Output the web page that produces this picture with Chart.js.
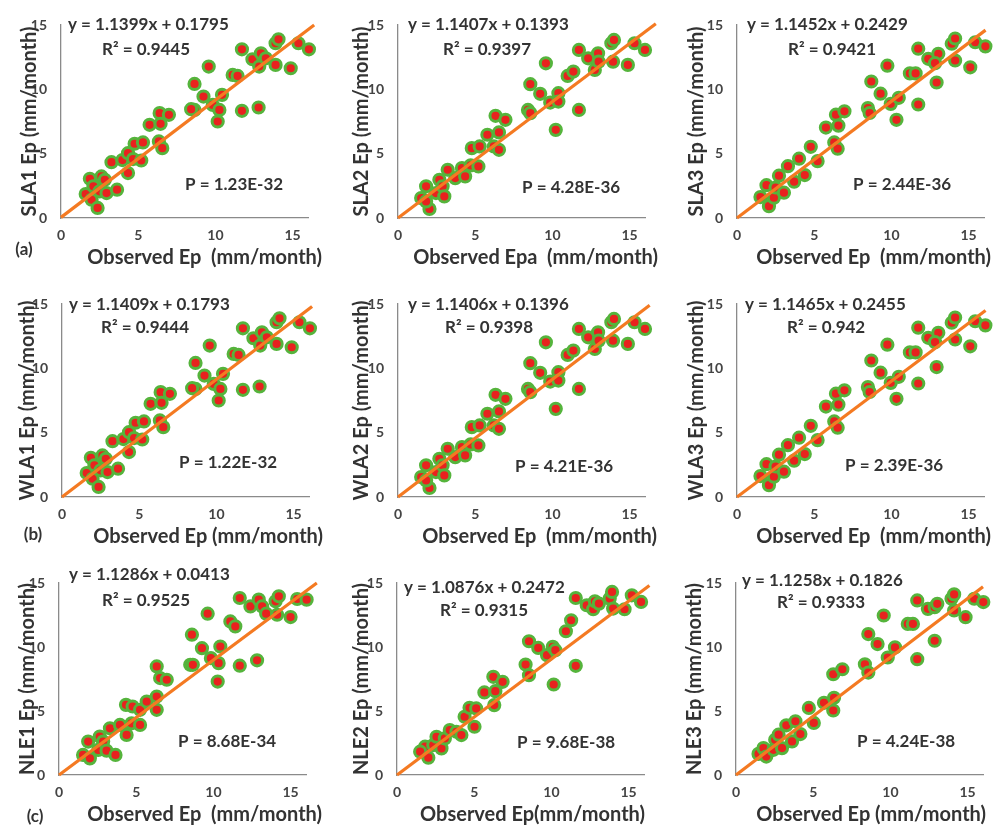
<!DOCTYPE html>
<html>
<head>
<meta charset="utf-8">
<script src="https://cdn.jsdelivr.net/npm/chart.js@4.4.0/dist/chart.umd.min.js"></script>
<style>
html,body{margin:0;padding:0;background:#fff;overflow:hidden;width:995px;height:827px;}
.cell{position:absolute;}
</style>
</head>
<body>
<div id="fig"></div>
<script>
// values (observed Ep vs model Ep, mm/month)
let sla1X=[1.87,1.6,2.1,1.98,2.37,2.62,2.84,2.5,2.95,3.63,3.27,3.98,4.34,4.34,4.67,4.77,5.2,5.31,5.74,6.39,6.45,6.34,6.56,6.99,8.65,8.65,8.43,9.23,9.57,9.83,10.26,10.15,10.43,11.12,11.44,11.72,11.72,12.4,12.84,12.95,12.8,13.27,13.9,14.09,13.9,14.88,15.38,16.06];
let sla1Y=[3.05,1.86,2.46,1.42,0.78,3.23,2.97,2.07,1.94,2.2,4.34,4.5,3.49,5.04,4.58,5.77,4.47,5.87,7.24,8.15,7.32,5.95,5.43,8.02,10.42,8.4,8.46,9.44,11.77,8.79,8.4,7.5,9.57,11.12,11.04,13.11,8.33,12.34,11.77,12.8,8.59,12.41,13.58,13.89,11.9,11.64,13.58,13.11];

let sla2X=[1.82,1.5,2.04,1.82,2.46,2.68,2.89,3.0,3.22,3.71,4.14,4.35,4.71,4.78,5.29,5.21,5.79,6.32,6.54,6.96,6.21,6.54,8.42,8.57,8.57,9.21,9.58,9.86,10.39,10.39,10.22,10.99,11.36,11.72,11.72,12.32,12.75,12.96,13.0,13.82,13.99,13.93,14.89,15.32,16.0];
let sla2Y=[2.46,1.55,0.7,1.29,1.94,2.97,2.46,1.68,3.75,3.1,3.88,3.23,4.09,5.43,5.56,4.01,6.47,7.94,6.65,7.63,5.56,5.3,8.4,8.15,10.4,9.65,12.02,8.97,9.7,9.05,6.85,11.04,11.38,13.06,8.4,12.41,11.51,12.8,12.15,13.58,13.84,12.15,11.9,13.58,13.06];

let sla3X=[1.91,1.52,2.07,2.39,2.5,2.72,3.04,3.3,3.7,4.02,4.39,4.78,5.22,5.76,6.41,6.57,6.3,6.52,6.96,8.48,8.59,8.7,9.3,9.74,9.96,10.48,10.33,11.2,11.57,11.74,11.74,12.39,12.93,13.04,12.83,13.91,14.13,14.13,15.11,15.43,16.09];
let sla3Y=[2.55,1.63,0.92,1.58,2.37,3.29,1.97,4.03,2.82,4.61,3.34,5.53,4.42,7.03,8.03,7.18,5.87,5.39,8.29,8.55,8.16,10.61,9.66,11.84,8.87,9.34,7.63,11.24,11.24,13.16,8.82,12.37,10.53,12.76,12.03,13.55,13.95,12.24,11.71,13.66,13.34];

let wla1X=[1.87,1.6,2.1,1.98,2.37,2.62,2.84,2.5,2.95,3.63,3.27,3.98,4.34,4.34,4.67,4.77,5.2,5.31,5.74,6.39,6.45,6.34,6.56,6.99,8.65,8.65,8.43,9.23,9.57,9.83,10.26,10.15,10.43,11.12,11.44,11.72,11.72,12.4,12.84,12.95,12.8,13.27,13.9,14.09,13.9,14.88,15.38,16.06];
let wla1Y=[3.05,1.86,2.46,1.42,0.78,3.23,2.97,2.07,1.94,2.2,4.34,4.5,3.49,5.04,4.58,5.77,4.47,5.87,7.24,8.15,7.32,5.95,5.43,8.02,10.42,8.4,8.46,9.44,11.77,8.79,8.4,7.5,9.57,11.12,11.04,13.11,8.33,12.34,11.77,12.8,8.59,12.41,13.58,13.89,11.9,11.64,13.58,13.11];

let wla2X=[1.82,1.5,2.04,1.82,2.46,2.68,2.89,3.0,3.22,3.71,4.14,4.35,4.71,4.78,5.29,5.21,5.79,6.32,6.54,6.96,6.21,6.54,8.42,8.57,8.57,9.21,9.58,9.86,10.39,10.39,10.22,10.99,11.36,11.72,11.72,12.32,12.75,12.96,13.0,13.82,13.99,13.93,14.89,15.32,16.0];
let wla2Y=[2.46,1.55,0.7,1.29,1.94,2.97,2.46,1.68,3.75,3.1,3.88,3.23,4.09,5.43,5.56,4.01,6.47,7.94,6.65,7.63,5.56,5.3,8.4,8.15,10.4,9.65,12.02,8.97,9.7,9.05,6.85,11.04,11.38,13.06,8.4,12.41,11.51,12.8,12.15,13.58,13.84,12.15,11.9,13.58,13.06];

let wla3X=[1.91,1.52,2.07,2.39,2.5,2.72,3.04,3.3,3.7,4.02,4.39,4.78,5.22,5.76,6.41,6.57,6.3,6.52,6.96,8.48,8.59,8.7,9.3,9.74,9.96,10.48,10.33,11.2,11.57,11.74,11.74,12.39,12.93,13.04,12.83,13.91,14.13,14.13,15.11,15.43,16.09];
let wla3Y=[2.55,1.63,0.92,1.58,2.37,3.29,1.97,4.03,2.82,4.61,3.34,5.53,4.42,7.03,8.03,7.18,5.87,5.39,8.29,8.55,8.16,10.61,9.66,11.84,8.87,9.34,7.63,11.24,11.24,13.16,8.82,12.37,10.1,12.76,12.03,13.55,13.95,12.24,11.71,13.66,13.34];

let nle1X=[1.89,1.56,2.0,2.54,2.64,2.86,3.08,3.66,3.3,3.95,4.38,4.34,4.77,4.7,5.25,5.25,5.68,6.33,6.55,6.98,6.33,6.33,8.61,8.5,8.67,9.26,9.63,9.84,10.45,10.34,10.28,11.1,11.42,11.71,11.71,12.4,12.83,12.94,13.16,13.42,14.03,14.24,14.13,15.0,15.43,16.04];
let nle1Y=[2.61,1.57,1.3,1.96,3.0,2.61,1.9,1.57,3.65,3.91,3.13,5.48,5.35,4.04,3.91,5.09,5.74,8.48,7.57,7.44,6.13,5.09,10.96,8.61,8.61,9.91,12.6,9.13,10.04,8.74,7.3,12.0,11.61,13.83,8.54,13.17,8.96,13.7,13.17,12.6,13.57,13.96,12.52,12.34,13.75,13.7];

let nle2X=[1.82,1.5,2.03,2.35,2.56,2.88,3.1,3.42,3.85,4.17,4.38,4.7,5.02,5.13,5.66,6.24,6.37,6.84,6.3,8.33,8.55,8.55,9.15,9.72,10.09,10.26,10.15,10.94,11.28,11.58,11.58,12.29,12.71,12.82,13.08,13.78,13.93,14.0,14.74,15.21,15.81];
let nle2Y=[2.21,1.82,1.35,2.34,2.99,2.08,2.86,3.51,3.38,3.12,4.55,5.25,3.77,5.2,6.45,7.67,6.55,7.28,5.46,8.63,7.8,10.45,9.93,9.36,10.01,9.75,7.07,11.23,12.09,13.83,8.53,13.26,12.95,13.57,13.39,13.78,14.3,13.0,12.95,14.04,13.52];

let nle3X=[1.46,1.78,1.96,2.43,2.54,2.76,2.98,3.26,3.63,3.85,4.17,4.72,5.04,5.7,6.3,6.3,6.35,6.89,8.35,8.57,8.57,9.17,9.57,9.83,10.3,11.13,11.46,11.74,11.74,12.43,12.87,12.87,13.04,13.96,14.13,14.13,14.87,15.43,16.02];
let nle3Y=[1.65,2.1,1.44,1.97,2.75,3.15,2.1,3.88,2.62,4.2,3.2,5.24,4.07,5.64,7.87,5.04,6.03,8.26,8.65,8.0,11.01,10.23,12.46,9.18,9.97,11.8,11.8,13.64,9.05,12.98,10.49,13.11,13.37,13.77,14.11,12.85,12.33,13.77,13.51];

// fitted line ends as drawn in each panel
let fitX=[[0,16.4],[0,16.7],[0,16.1],[0,16.2],[0,16.3],[0,16.1],[0,16.7],[0,16.35],[0,16.0]];
let fitY=[[0.05,15.0],[0,15.1],[0,14.6],[0,14.8],[0,14.9],[0,14.5],[0,15.0],[0,14.8],[0,14.7]];

let yTitles=["SLA1 Ep (mm/month)","SLA2 Ep (mm/month)","SLA3 Ep (mm/month)","WLA1 Ep (mm/month)","WLA2 Ep (mm/month)","WLA3 Ep (mm/month)","NLE1 Ep (mm/month)","NLE2 Ep (mm/month)","NLE3 Ep (mm/month)"];
let xTitles=["Observed Ep  (mm/month)","Observed Epa  (mm/month)","Observed Ep  (mm/month)","Observed Ep (mm/month)","Observed Ep  (mm/month)","Observed Ep  (mm/month)","Observed Ep  (mm/month)","Observed Ep(mm/month)","Observed Ep (mm/month)"];
let equations=["y = 1.1399x + 0.1795","y = 1.1407x + 0.1393","y = 1.1452x + 0.2429","y = 1.1409x + 0.1793","y = 1.1406x + 0.1396","y = 1.1465x + 0.2455","y = 1.1286x + 0.0413","y = 1.0876x + 0.2472","y = 1.1258x + 0.1826"];
let rSquared=["0.9445","0.9397","0.9421","0.9444","0.9398","0.942","0.9525","0.9315","0.9333"];
let pValues=["1.23E-32","4.28E-36","2.44E-36","1.22E-32","4.21E-36","2.39E-36","8.68E-34","9.68E-38","4.24E-38"];
let rowLabels=["(a)","(b)","(c)"];
let tickVals=[0,5,10,15];

let allX=[sla1X,sla2X,sla3X,wla1X,wla2X,wla3X,nle1X,nle2X,nle3X];
let allY=[sla1Y,sla2Y,sla3Y,wla1Y,wla2Y,wla3Y,nle1Y,nle2Y,nle3Y];

// layout of each panel (plot area left/top in page px) and text offsets
let plotLeft=[[61,398,737],[62,398,737],[59,397,736]];
let plotTop=[25,304,583];
let plotH=[193,193,192];
let PW=247, CW=330, CH=270, YAX=61;
let txt=[
    {eq:[7,0],r2:[41,25],p:[124,160],yt:-31,xt:14},
    {eq:[10,0],r2:[45,25],p:[124,163],yt:-36,xt:13},
    {eq:[10,0],r2:[51,25],p:[116,160],yt:-40,xt:7},
    {eq:[7,1],r2:[39,24],p:[117,159],yt:-34,xt:14},
    {eq:[10,1],r2:[47,24],p:[117,163],yt:-36,xt:12},
    {eq:[8,1],r2:[50,24],p:[108,162],yt:-40,xt:7},
    {eq:[10,-8],r2:[43,18],p:[119,159],yt:-31,xt:16},
    {eq:[7,5],r2:[43,28],p:[120,160],yt:-35,xt:1},
    {eq:[6,-2],r2:[41,20],p:[121,159],yt:-41,xt:3}
];
// row label positions, page px
let labelPos=[[24,250],[33,535],[35,817]];

const FONT="Lato";
const TXT="#333333";

let panelText={
    id:"panelText",
    afterDraw:function (chart)
    {
        let o=chart.options.plugins.panelText;
        let ctx=chart.ctx;
        let a=chart.chartArea;
        let t=txt[o.idx];
        ctx.save();
        ctx.fillStyle=TXT;
        ctx.textBaseline="middle";
        ctx.textAlign="left";
        ctx.font="bold 17px "+FONT;
        ctx.fillText(equations[o.idx],a.left+t.eq[0],a.top+t.eq[1]);
        ctx.fillText("R\u00B2 = "+rSquared[o.idx],a.left+t.r2[0],a.top+t.r2[1]);
        ctx.fillText("P = "+pValues[o.idx],a.left+t.p[0],a.top+t.p[1]);
        // axis titles
        ctx.font="bold 20px "+FONT;
        ctx.textAlign="right";
        ctx.fillText(xTitles[o.idx],a.right+t.xt,a.bottom+40);
        ctx.save();
        ctx.translate(a.left+t.yt,(a.top+a.bottom)/2);
        ctx.rotate(-Math.PI/2);
        ctx.textAlign="center";
        ctx.fillText(yTitles[o.idx],0,0);
        ctx.restore();
        if(o.idx%3==0)
        {
            let r=Math.floor(o.idx/3);
            ctx.font="bold 17px "+FONT;
            ctx.textAlign="center";
            ctx.fillText(rowLabels[r],labelPos[r][0]-(plotLeft[r][0]-YAX),labelPos[r][1]-(plotTop[r]-25));
        }
        ctx.restore();
    }
};

let fig=document.getElementById("fig");
for(let i=0;i<9;i++)
{
    let r=Math.floor(i/3), c=i%3;
    let div=document.createElement("div");
    div.className="cell";
    div.style.left=(plotLeft[r][c]-YAX)+"px";
    div.style.top=(plotTop[r]-25)+"px";
    let cv=document.createElement("canvas");
    cv.width=CW; cv.height=CH;
    div.appendChild(cv);
    fig.appendChild(div);

    let pts=allX[i].map(function (v,k){ return {x:v,y:allY[i][k]}; });
    let line=fitX[i].map(function (v,k){ return {x:v,y:fitY[i][k]}; });
    let xAxisH=CH-25-plotH[r];

    new Chart(cv,{
        type:"scatter",
        data:{
            datasets:[
                {data:line,showLine:true,borderColor:"#f47a22",borderWidth:3.2,pointRadius:0,clip:false},
                {data:pts,backgroundColor:"#e8221e",borderColor:"#55b43c",borderWidth:3,pointRadius:5.6,clip:false}
            ]
        },
        options:{
            responsive:false,
            animation:false,
            devicePixelRatio:1,
            layout:{padding:{left:0,top:25,right:CW-YAX-PW,bottom:0}},
            plugins:{legend:{display:false},tooltip:{enabled:false},panelText:{idx:i}},
            scales:{
                x:{
                    type:"linear",min:0,max:16,
                    grid:{display:false},
                    border:{display:true,color:"#8a8a8a",width:1.3},
                    afterBuildTicks:function (s){ s.ticks=tickVals.map(function (v){ return {value:v}; }); },
                    afterFit:function (s){ s.height=xAxisH; },
                    ticks:{color:"#444",font:{family:FONT,size:14,weight:"bold"},padding:1,maxRotation:0}
                },
                y:{
                    type:"linear",min:0,max:15,
                    grid:{display:false},
                    border:{display:true,color:"#8a8a8a",width:1.3},
                    afterBuildTicks:function (s){ s.ticks=tickVals.map(function (v){ return {value:v}; }); },
                    afterFit:function (s){ s.width=YAX; },
                    ticks:{color:"#444",font:{family:FONT,size:14,weight:"bold"},padding:6}
                }
            }
        },
        plugins:[panelText]
    });
}
</script>
</body>
</html>
